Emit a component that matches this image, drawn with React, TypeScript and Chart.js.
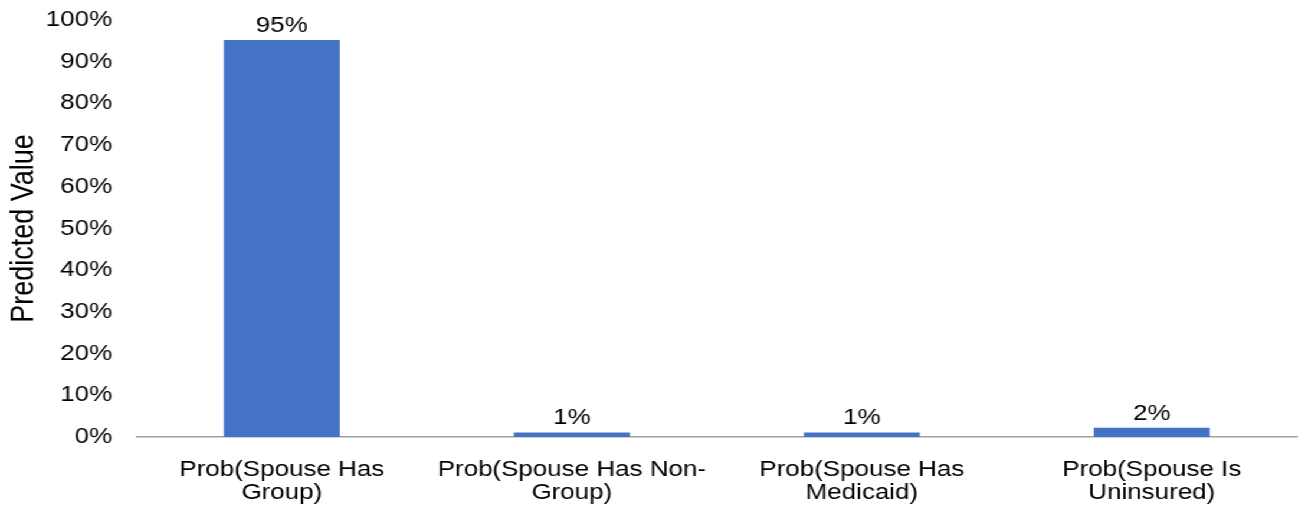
import React, { useEffect, useRef } from "react";
import { Chart, registerables } from "chart.js";

Chart.register(...registerables);

const categories: string[][] = [
  ["Prob(Spouse Has", "Group)"],
  ["Prob(Spouse Has Non-", "Group)"],
  ["Prob(Spouse Has", "Medicaid)"],
  ["Prob(Spouse Is", "Uninsured)"],
];
const values: number[] = [95.2, 1.1, 1.1, 2.2];
const valueLabels: string[] = ["95%", "1%", "1%", "2%"];
const yMin = 0;
const yMax = 100;
const yStep = 10;
const yAxisTitle = "Predicted Value";

const FONT = '"Liberation Sans", Arial, Helvetica, sans-serif';
const STRETCH = 1.18;
const BASE_W = Math.round(1299 / STRETCH);

const dataLabelPlugin = {
  id: "valueLabels",
  afterDatasetsDraw(chart: any) {
    const ctx = chart.ctx;
    const meta = chart.getDatasetMeta(0);
    ctx.save();
    ctx.font = `22px ${FONT}`;
    ctx.fillStyle = "#000";
    ctx.textAlign = "center";
    ctx.textBaseline = "alphabetic";
    meta.data.forEach((el: any, i: number) => {
      ctx.fillText(valueLabels[i], el.x, el.y - 8);
    });
    ctx.restore();
  },
};

export default function App() {
  const ref = useRef<HTMLCanvasElement | null>(null);
  useEffect(() => {
    if (!ref.current) return;
    const chart = new Chart(ref.current, {
      type: "bar",
      data: {
        labels: categories,
        datasets: [
          {
            data: values,
            backgroundColor: "#4472C4",
            borderWidth: 0,
            categoryPercentage: 1,
            barPercentage: 0.4,
          },
        ],
      },
      options: {
        animation: false,
        responsive: true,
        maintainAspectRatio: false,
        layout: { padding: { top: 20, left: 4, right: 2, bottom: 0 } },
        plugins: {
          legend: { display: false },
          tooltip: { enabled: false },
        },
        scales: {
          x: {
            grid: { display: false, drawTicks: false },
            border: { display: true, color: "#a0a0a0", width: 1.5 },
            ticks: {
              color: "#000",
              font: { family: FONT, size: 22, lineHeight: 1.07 },
              padding: 21,
              maxRotation: 0,
              minRotation: 0,
              autoSkip: false,
            },
            afterFit: (scale: any) => {
              scale.height = 75;
            },
          },
          y: {
            min: yMin,
            max: yMax,
            grid: { display: false, drawTicks: false },
            border: { display: false },
            ticks: {
              stepSize: yStep,
              color: "#000",
              font: { family: FONT, size: 22 },
              padding: 21,
              callback: (v: any) => `${v}%`,
            },
            title: {
              display: true,
              text: yAxisTitle,
              color: "#000",
              font: { family: FONT, size: 27 },
              padding: { top: 0, bottom: 0 },
            },
            afterFit: (scale: any) => {
              scale.width = 112;
              scale.paddingTop = 0;
              scale.paddingBottom = 0;
            },
          },
        },
      },
      plugins: [dataLabelPlugin],
    });
    return () => chart.destroy();
  }, []);

  return (
    <div
      style={{
        position: "absolute",
        left: 0,
        top: 0,
        width: BASE_W,
        height: 512,
        transform: `scaleX(${STRETCH})`,
        transformOrigin: "0 0",
        background: "#fff",
      }}
    >
      <canvas ref={ref} />
    </div>
  );
}
